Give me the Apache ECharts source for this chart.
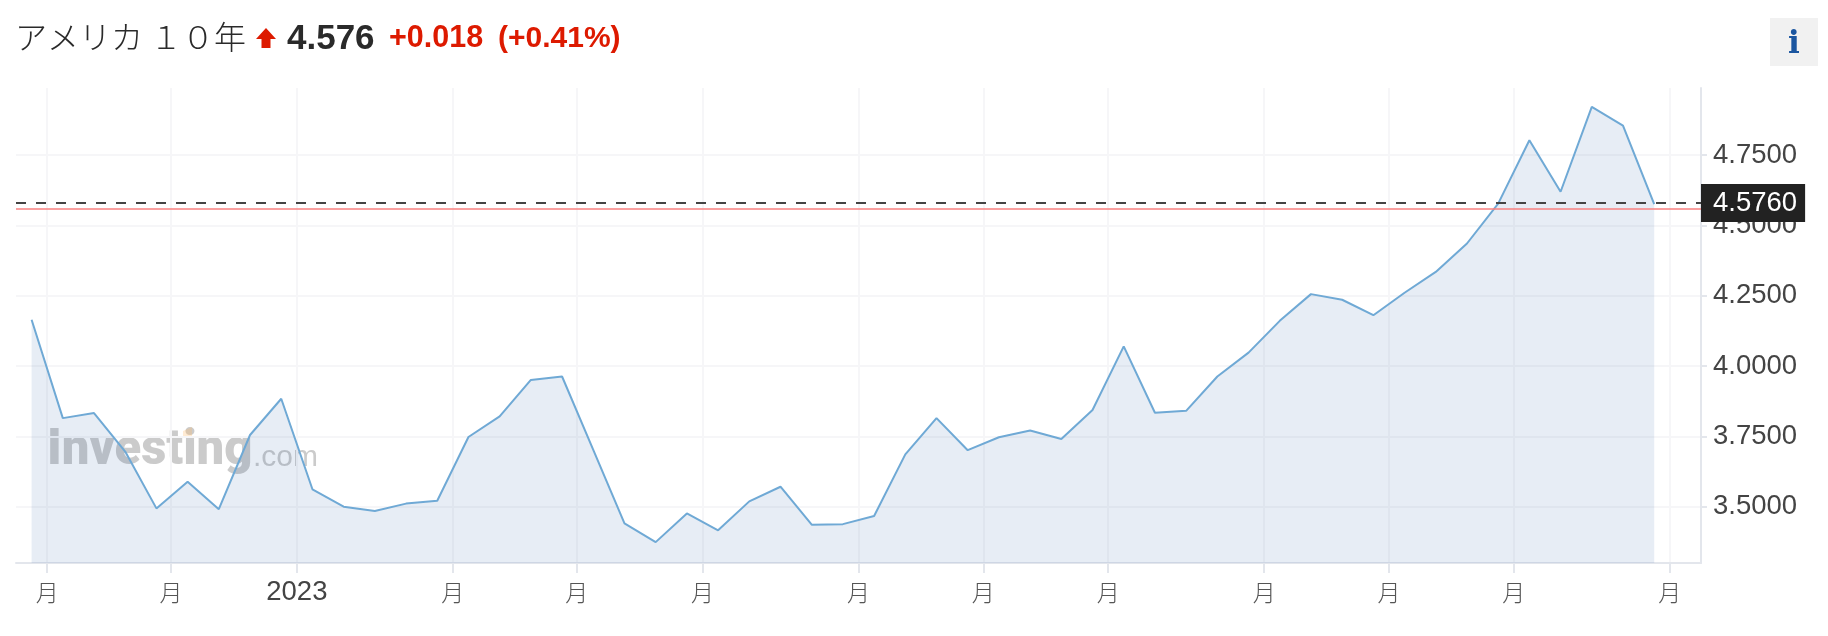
<!DOCTYPE html>
<html><head><meta charset="utf-8">
<style>html,body{margin:0;padding:0;background:#fff}#c{width:1828px;height:636px}</style>
<script src="https://cdn.jsdelivr.net/npm/echarts@6/dist/echarts.min.js"></script>
</head><body><div id="c"></div>
<script>
const yields = [4.165,3.815,3.833,3.696,3.494,3.589,3.491,3.755,3.884,3.562,3.500,3.485,3.511,3.521,3.748,
3.821,3.951,3.963,3.702,3.441,3.374,3.476,3.416,3.519,3.571,3.436,3.438,3.467,3.686,
3.815,3.701,3.747,3.771,3.741,3.844,4.070,3.834,3.841,3.963,4.048,4.161,4.256,4.236,
4.181,4.261,4.335,4.436,4.578,4.803,4.620,4.922,4.855,4.576];
const xTicks = [0.5,4.47,8.5,13.5,17.47,21.5,26.5,30.5,34.5,39.5,43.5,47.5,52.5];
const xLabels = ['月','月','2023','月','月','月','月','月','月','月','月','月','月'];
const yTicks = [3.5,3.75,4.0,4.25,4.5,4.75];
const lastPrice = 4.576;
const prevClose = 4.558;
const titleText = 'アメリカ １０年';
const priceText = '4.576';
const changeText = '+0.018';
const pctText = '(+0.41%)';

const latin = '"Liberation Sans",Arial,sans-serif';
const cjk = '"Noto Sans CJK JP",sans-serif';
const chart = echarts.init(document.getElementById('c'), null, {renderer:'canvas'});
const txt = (x,y,text,font,color,sx,extra)=>Object.assign({type:'text',x,y,scaleX:sx||1,silent:true,
  style:{text,font,fill:color,textVerticalAlign:'middle',verticalAlign:'middle'}},extra||{});
chart.setOption({
  animation:false,
  backgroundColor:'#fff',
  grid:{left:16,right:127,top:88,bottom:73,containLabel:false},
  xAxis:{type:'value',min:-0.5,max:53.5,
    axisLine:{show:true,onZero:false,lineStyle:{color:'#e3e6ec',width:2}},
    axisTick:{show:true,length:10,customValues:xTicks,lineStyle:{color:'#e3e6ec',width:2}},
    splitLine:{show:true,lineStyle:{color:'#f6f6f8',width:2}},
    axisLabel:{customValues:xTicks,margin:15,hideOverlap:false,
      formatter:v=>{const t=xLabels[xTicks.indexOf(v)]||'';return t==='月'?'{m|'+t+'}':'{y|'+t+'}';},
      rich:{m:{fontSize:23,fontFamily:cjk,fontWeight:300,color:'#555',lineHeight:28},
            y:{fontSize:27.5,fontFamily:latin,color:'#444',lineHeight:28}}}
  },
  yAxis:{type:'value',position:'right',min:3.2998,max:4.989,
    axisLine:{show:true,onZero:false,lineStyle:{color:'#e3e6ec',width:2}},
    axisTick:{show:true,length:6,customValues:yTicks,lineStyle:{color:'#e3e6ec',width:2}},
    splitLine:{show:true,lineStyle:{color:'#f6f6f8',width:2}},
    axisLabel:{customValues:yTicks,margin:12,fontSize:27.5,fontFamily:latin,color:'#444',padding:[4,0,0,0],
      formatter:v=>v.toFixed(4)}
  },
  series:[{type:'line',data:yields.map((v,i)=>[i,v]),showSymbol:false,symbol:'none',smooth:false,
    lineStyle:{color:'#6fa9d5',width:2},
    areaStyle:{color:'rgba(33,94,168,0.11)',opacity:1},
    markLine:{silent:true,symbol:'none',animation:false,
      data:[
        {yAxis:prevClose,lineStyle:{color:'#f98080',width:1.5,type:'solid'},label:{show:false}},
        {yAxis:lastPrice,lineStyle:{color:'#444',width:2,type:[10,10]},
         label:{show:true,position:'end',distance:0,formatter:()=>lastPrice.toFixed(4),
           color:'#fff',backgroundColor:'#222',fontSize:27.5,fontFamily:latin,
           padding:[6,8,4,12]}}
      ]}
  }],
  graphic:[
    txt(47,451,'Investing','900 50px Roboto,'+latin,'rgba(110,110,110,0.36)',0.98,{z:0}),
    txt(253,458,'.com','300 30px '+latin,'rgba(110,110,110,0.36)',1,{z:0}),
    {type:'polygon',z:0,silent:true,shape:{points:[[183,431],[192,427],[192,436],[183,438]]},style:{fill:'rgba(255,190,110,0.3)'}},
    txt(15,37,titleText,'300 32px "Noto Sans CJK JP",sans-serif','#2a2a2a'),
    {type:'polygon',silent:true,shape:{points:[[266,28],[276,39],[270.5,39],[270.5,48],[261.5,48],[261.5,39],[256,39]]},style:{fill:'#dd1a00'}},
    txt(287,39,priceText,'bold 35px '+latin,'#2a2a2a'),
    txt(389,39,changeText,'bold 30.5px '+latin,'#dd1a00'),
    txt(498,39,pctText,'bold 30px '+latin,'#dd1a00'),
    {type:'rect',silent:true,shape:{x:1770,y:18,width:48,height:48},style:{fill:'#f1f1f1'}},
    {type:'text',silent:true,x:1794,y:45,style:{text:'i',font:'bold 31px "DejaVu Serif",serif',fill:'#1b56a0',align:'center',verticalAlign:'middle',textAlign:'center',textVerticalAlign:'middle'}}
  ]
});
</script></body></html>
